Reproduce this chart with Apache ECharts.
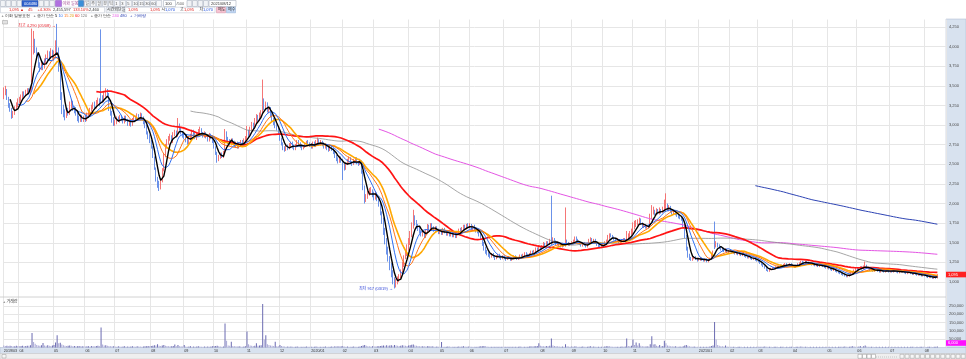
<!DOCTYPE html>
<html><head><meta charset="utf-8">
<script src="https://cdn.jsdelivr.net/npm/echarts@6/dist/echarts.min.js"></script>
<style>html,body{margin:0;padding:0;background:#fff;}#c{width:966px;height:359px;}</style>
</head><body><div id="c"></div>
<script>
// ---- categories / tick labels ----
const monthLabels = ['2019/03','04','05','06','07','08','09','10','11','12',
  '2020/01','02','03','04','05','06','07','08','09','10','11','12',
  '2021/01','02','03','04','05','06','07','08'];
const monthDays = [10,22,20,19,23,21,19,21,21,20, 20,20,22,20,19,22,23,20,20,19,21,21, 20,18,22,22,19,21,22,9];
const priceTicks = [1000,1250,1500,1750,2000,2250,2500,2750,3000,3250,3500,3750,4000,4250];
const volTicks = [50000,100000,150000,200000,250000];
const maxNote = '최고 4,290 (05/08) →';
const minNote = '최저 917 (03/19) →';

// ---- daily OHLC (one row per month) ----
const open = [
3360,3400,3450,3340,3260,3200,3110,3150,3210,3250,
3300,3320,3360,3410,3380,3420,3450,3400,3460,3950,4080,3960,3880,3760,3710,3790,3740,3800,3870,3910,3850,3930,
3870,3890,3980,3950,3690,3360,3200,3160,3110,3190,3150,3240,3290,3200,3190,3140,3090,3050,3110,3060,
3090,3070,3130,3150,3190,3220,3260,3230,3290,3310,3400,3330,3310,3390,3430,3390,3210,3140,3070,
3010,3030,3090,3050,3110,3060,3040,3100,3060,3010,3050,3000,3070,3100,3060,3120,3070,3130,3080,3030,2990,2890,2860,
2790,2710,2590,2440,2310,2260,2200,2290,2430,2610,2730,2770,2830,2860,2790,2890,2910,2860,2990,2940,2890,
2870,2850,2810,2770,2830,2860,2910,2880,2830,2880,2910,2940,2880,2850,2890,2850,2810,2870,2840,
2790,2710,2640,2560,2590,2620,2600,2650,2870,2820,2790,2750,2800,2780,2740,2770,2720,2750,2790,2760,2790,
2820,2910,2870,2950,3010,2980,3040,3110,3070,3120,3180,3310,3210,3260,3170,3210,3130,3060,3030,2990,2950,
2890,2820,2760,2700,2680,2720,2700,2730,2770,2720,2700,2740,2790,2760,2730,2700,2720,2750,2790,2760,
2740,2720,2770,2740,2770,2800,2750,2790,2760,2720,2740,2710,2680,2720,2690,2650,2600,2570,2530,2580,
2550,2480,2440,2500,2540,2570,2520,2500,2540,2570,2520,2500,2530,2390,2200,2040,2090,2120,2150,2170,
2110,2070,2130,2060,1990,1870,1790,1650,1530,1420,1290,1210,1110,1030,940,1010,1020,1070,1140,1210,1310,1350,
1420,1500,1590,1700,1790,1770,1700,1690,1640,1600,1620,1580,1640,1710,1680,1720,1690,1660,1690,1650,
1630,1650,1620,1670,1640,1610,1640,1600,1620,1590,1620,1580,1620,1660,1640,1680,1710,1690,1730,
1700,1720,1680,1710,1670,1650,1640,1600,1560,1490,1420,1380,1360,1340,1320,1350,1330,1300,1320,1350,1310,1300,
1320,1300,1290,1310,1300,1280,1300,1320,1310,1290,1300,1330,1320,1340,1370,1340,1330,1350,1380,1360,1390,1420,1400,
1440,1420,1450,1490,1460,1500,1480,1550,1500,1540,1510,1480,1500,1470,1450,1480,1470,1520,1490,1470,
1480,1500,1520,1560,1530,1500,1480,1460,1490,1470,1450,1480,1520,1540,1510,1530,1500,1470,1450,1440,
1460,1480,1500,1520,1560,1600,1580,1560,1540,1520,1540,1500,1510,1520,1550,1530,1560,1580,1600,
1620,1690,1720,1750,1760,1790,1740,1700,1720,1690,1710,1700,1820,1890,1900,1860,1910,1880,1910,1890,1920,
1950,1970,1920,1950,1900,1880,1890,1870,1850,1830,1820,1800,1720,1580,1420,1330,1300,1290,1300,1310,1300,
1280,1290,1300,1280,1270,1290,1260,1280,1300,1340,1720,1460,1480,1460,1440,1420,1400,1390,1410,1380,
1400,1390,1370,1380,1360,1370,1350,1360,1340,1350,1330,1320,1310,1320,1300,1290,1300,1280,
1270,1260,1240,1220,1200,1180,1150,1140,1160,1170,1180,1170,1190,1200,1190,1210,1200,1220,1230,1210,1220,1230,
1210,1200,1190,1210,1230,1240,1260,1250,1240,1260,1250,1230,1240,1220,1230,1210,1220,1200,1210,1220,1200,1190,
1180,1190,1170,1160,1150,1160,1140,1130,1120,1110,1100,1090,1080,1070,1080,1090,1110,1130,1150,
1170,1160,1180,1190,1170,1200,1210,1180,1170,1150,1160,1140,1150,1160,1140,1130,1150,1140,1130,1140,1150,
1130,1140,1130,1150,1140,1130,1120,1130,1140,1130,1120,1110,1120,1130,1110,1100,1110,1100,1090,1100,1090,1080,
1090,1080,1070,1060,1070,1060,1050,1060,1050];
const high = [
3480,3500,3460,3360,3280,3220,3180,3240,3290,3340,
3360,3390,3430,3430,3450,3470,3470,3480,4230,4200,4100,3990,3900,3800,3820,3810,3850,3900,3950,3940,3980,3960,
3950,4080,4290,3990,3720,3420,3260,3200,3220,3220,3300,3330,3310,3240,3230,3170,3120,3140,3130,3120,
3130,3160,3190,3220,3260,3290,3300,3320,3350,3340,4220,3380,3420,3470,3460,3410,3240,3180,3100,
3070,3110,3110,3130,3130,3090,3120,3120,3080,3070,3070,3090,3130,3120,3150,3140,3160,3150,3110,3050,3000,2920,2880,
2810,2730,2600,2460,2340,2290,2310,2450,2640,2760,2820,2860,2890,2870,2910,2940,2930,3090,3020,2970,2920,
2900,2880,2840,2850,2890,2940,2940,2910,2900,2950,2980,2960,2910,2920,2910,2880,2900,2890,2860,
2810,2730,2660,2620,2650,2650,2670,2950,2920,2850,2820,2830,2830,2800,2790,2790,2780,2810,2810,2830,2860,
2990,2940,2980,3040,3030,3090,3140,3130,3160,3190,3580,3340,3300,3290,3240,3230,3150,3090,3050,3010,2970,
2910,2840,2780,2730,2740,2750,2770,2790,2790,2750,2760,2810,2810,2780,2750,2740,2770,2800,2810,2780,
2770,2790,2790,2810,2840,2820,2810,2800,2780,2770,2760,2730,2750,2740,2710,2670,2620,2590,2610,2600,
2570,2510,2520,2570,2600,2590,2540,2570,2590,2590,2540,2570,2550,2420,2230,2120,2160,2200,2210,2180,
2150,2160,2140,2080,2010,1900,1820,1690,1560,1450,1330,1240,1150,1060,1040,1070,1100,1160,1260,1340,1400,1480,
1560,1650,1760,1920,1850,1790,1740,1710,1660,1670,1640,1670,1740,1730,1750,1750,1710,1710,1710,1680,
1670,1670,1690,1690,1660,1650,1660,1640,1640,1630,1640,1640,1680,1690,1700,1730,1730,1740,1750,
1750,1740,1720,1730,1690,1670,1660,1620,1580,1510,1450,1410,1380,1360,1370,1370,1340,1340,1360,1360,1330,1340,
1340,1320,1330,1330,1310,1310,1340,1340,1320,1320,1350,1350,1360,1380,1380,1360,1370,1400,1400,1410,1440,1440,1470,
1460,1470,1510,1500,1520,1520,1550,2100,1570,1560,1530,1520,1510,1490,1500,1490,1950,1540,1510,1500,
1520,1540,1580,1580,1550,1520,1500,1510,1510,1480,1500,1550,1570,1560,1550,1550,1520,1490,1470,1480,
1500,1520,1540,1600,1620,1620,1600,1580,1560,1560,1550,1530,1540,1560,1560,1650,1620,1650,1680,
1760,1780,1790,1800,1820,1810,1760,1750,1740,1730,1730,1870,1980,1960,1920,1940,1930,1950,1930,1960,2050,
2130,2000,1980,1970,1920,1910,1910,1890,1870,1850,1840,1820,1740,1600,1450,1360,1320,1320,1330,1330,1310,
1310,1320,1310,1300,1300,1300,1290,1310,1360,1400,1770,1520,1500,1480,1460,1440,1420,1430,1420,1410,
1410,1400,1390,1390,1380,1380,1370,1370,1360,1360,1340,1330,1330,1330,1310,1310,1310,1290,
1280,1270,1250,1230,1210,1190,1160,1170,1180,1190,1190,1200,1210,1210,1220,1220,1230,1240,1240,1230,1240,1240,
1220,1210,1220,1240,1250,1270,1270,1260,1270,1270,1260,1250,1250,1240,1240,1230,1230,1220,1230,1230,1210,1200,
1200,1200,1180,1170,1170,1170,1150,1140,1130,1120,1110,1100,1090,1090,1100,1120,1140,1160,1180,
1180,1190,1200,1200,1210,1260,1220,1190,1180,1170,1170,1160,1170,1170,1150,1160,1160,1150,1150,1160,1160,
1150,1150,1160,1160,1150,1140,1140,1150,1150,1140,1130,1130,1140,1140,1120,1120,1120,1110,1110,1110,1100,1100,
1100,1090,1080,1080,1080,1070,1070,1070,1100];
const low = [
3330,3380,3320,3220,3170,3080,3090,3130,3190,3230,
3280,3300,3340,3360,3370,3400,3390,3390,3440,3900,3920,3830,3730,3680,3700,3700,3720,3780,3840,3820,3840,3850,
3820,3860,3900,3680,3320,3140,3100,3060,3090,3120,3130,3210,3180,3150,3120,3050,3030,3040,3040,3040,
3040,3050,3100,3130,3170,3200,3210,3210,3260,3240,3280,3280,3290,3360,3370,3180,3120,3030,2990,
2990,3010,3040,3030,3050,3020,3020,3040,2990,2990,2980,2990,3050,3050,3050,3060,3060,3070,3010,2960,2880,2820,2770,
2700,2580,2430,2280,2200,2160,2180,2270,2410,2590,2700,2750,2800,2780,2770,2860,2840,2850,2930,2880,2840,
2820,2780,2750,2750,2810,2840,2860,2820,2810,2860,2890,2870,2840,2840,2830,2790,2790,2820,2770,
2700,2620,2520,2540,2570,2580,2580,2630,2800,2760,2740,2740,2760,2720,2720,2700,2700,2740,2740,2750,2770,
2800,2850,2860,2930,2950,2960,3020,3050,3050,3100,3150,3190,3190,3160,3150,3100,3040,3000,2960,2930,2880,
2800,2740,2680,2660,2670,2680,2690,2710,2700,2680,2680,2720,2740,2710,2680,2690,2710,2740,2750,2720,
2700,2700,2720,2720,2750,2740,2740,2730,2700,2700,2680,2660,2670,2670,2630,2580,2540,2510,2520,2520,
2300,2420,2430,2490,2520,2500,2480,2490,2530,2500,2480,2490,2380,2170,2000,2020,2060,2100,2120,2080,
2040,2050,2030,1960,1850,1740,1600,1480,1350,1260,1150,1060,970,917,930,970,1000,1050,1120,1190,1290,1330,
1400,1470,1570,1680,1720,1680,1650,1620,1580,1580,1560,1560,1620,1660,1660,1670,1640,1640,1640,1610,
1610,1600,1600,1620,1590,1590,1580,1580,1570,1570,1560,1560,1600,1620,1620,1660,1670,1670,1680,
1680,1660,1660,1650,1630,1620,1580,1540,1460,1400,1360,1340,1320,1300,1310,1310,1280,1290,1310,1300,1280,1290,
1290,1270,1280,1290,1270,1270,1290,1300,1280,1280,1290,1310,1310,1330,1330,1320,1320,1340,1350,1350,1380,1390,1390,
1400,1410,1440,1450,1450,1470,1470,1470,1490,1500,1470,1470,1460,1440,1440,1450,1450,1480,1460,1460,
1470,1490,1510,1520,1490,1470,1450,1450,1460,1440,1440,1470,1510,1500,1500,1490,1460,1440,1430,1430,
1450,1470,1490,1510,1550,1570,1550,1530,1510,1510,1490,1490,1500,1510,1520,1520,1550,1570,1590,
1610,1670,1700,1720,1740,1730,1690,1690,1680,1680,1680,1690,1800,1860,1850,1850,1860,1860,1870,1880,1900,
1920,1900,1900,1890,1860,1860,1850,1830,1810,1800,1780,1700,1560,1400,1310,1280,1270,1270,1290,1280,1260,
1270,1270,1270,1260,1260,1250,1250,1270,1290,1330,1420,1440,1440,1420,1400,1390,1380,1380,1370,1370,
1380,1360,1360,1350,1350,1340,1340,1330,1330,1320,1310,1300,1300,1290,1280,1280,1270,1260,
1250,1230,1210,1190,1170,1140,1130,1130,1150,1160,1160,1160,1180,1180,1180,1190,1190,1210,1200,1200,1210,1200,
1190,1180,1180,1200,1220,1230,1240,1230,1230,1240,1220,1220,1210,1210,1200,1200,1190,1190,1200,1190,1180,1170,
1170,1160,1150,1140,1140,1130,1120,1110,1100,1090,1080,1070,1060,1060,1070,1080,1100,1120,1140,
1150,1150,1170,1160,1160,1190,1170,1160,1140,1140,1130,1130,1140,1130,1120,1120,1130,1120,1120,1130,1120,
1120,1120,1120,1130,1120,1110,1110,1120,1120,1110,1100,1100,1110,1100,1090,1090,1090,1080,1080,1080,1070,1070,
1070,1060,1050,1050,1050,1040,1040,1040,1045];
const close = [
3400,3450,3350,3250,3200,3120,3150,3200,3260,3300,
3330,3360,3400,3380,3420,3440,3410,3450,3980,4060,3950,3880,3760,3720,3780,3740,3800,3860,3900,3850,3920,3880,
3880,3960,3960,3700,3350,3180,3150,3120,3180,3150,3250,3280,3200,3180,3150,3080,3060,3100,3070,3090,
3080,3120,3150,3180,3220,3250,3240,3280,3300,3270,3330,3320,3380,3420,3400,3200,3150,3060,3020,
3040,3080,3060,3100,3070,3050,3090,3060,3020,3040,3010,3060,3090,3070,3110,3080,3120,3090,3030,2980,2900,2850,2800,
2720,2600,2450,2300,2250,2200,2280,2420,2600,2720,2780,2820,2850,2800,2880,2900,2860,3000,2950,2900,2870,
2850,2800,2780,2820,2860,2900,2880,2840,2870,2910,2930,2890,2860,2880,2850,2820,2860,2840,2800,
2720,2640,2560,2580,2620,2600,2640,2880,2820,2780,2760,2800,2780,2740,2760,2720,2750,2780,2760,2800,2820,
2900,2880,2950,3000,2980,3050,3100,3080,3120,3150,3300,3220,3250,3180,3200,3120,3060,3020,2980,2950,2900,
2820,2760,2700,2680,2720,2700,2740,2760,2720,2700,2740,2780,2760,2730,2700,2720,2750,2780,2760,2740,
2730,2760,2740,2780,2800,2760,2780,2750,2720,2740,2700,2680,2720,2690,2650,2600,2560,2540,2580,2550,
2480,2450,2500,2540,2560,2520,2500,2540,2560,2520,2500,2540,2400,2200,2050,2080,2120,2150,2160,2100,
2080,2120,2050,2000,1880,1780,1640,1520,1400,1300,1200,1100,1020,950,1000,1020,1080,1130,1220,1300,1360,1420,
1500,1580,1700,1780,1760,1700,1680,1640,1600,1620,1580,1640,1700,1680,1720,1690,1660,1680,1650,1630,
1640,1620,1660,1640,1610,1630,1600,1620,1590,1610,1580,1620,1650,1640,1680,1700,1690,1720,1700,
1710,1680,1700,1670,1650,1640,1600,1560,1480,1420,1380,1360,1340,1320,1350,1330,1300,1320,1340,1310,1300,1320,
1300,1290,1310,1300,1280,1300,1320,1310,1290,1300,1330,1320,1340,1360,1340,1330,1350,1380,1360,1390,1420,1400,1440,
1420,1450,1480,1460,1500,1480,1520,1500,1540,1510,1480,1500,1470,1450,1480,1460,1520,1490,1470,1480,
1500,1520,1550,1530,1500,1480,1460,1490,1470,1450,1480,1520,1540,1510,1530,1500,1470,1450,1440,1460,
1480,1500,1520,1560,1590,1580,1560,1540,1520,1540,1500,1510,1520,1540,1530,1560,1580,1600,1620,
1680,1720,1740,1760,1780,1740,1700,1720,1690,1710,1700,1820,1880,1900,1870,1900,1880,1910,1890,1920,1950,
1960,1920,1950,1900,1880,1890,1870,1850,1830,1820,1800,1720,1580,1420,1330,1300,1290,1300,1310,1300,1280,
1290,1300,1280,1270,1290,1260,1280,1300,1340,1380,1460,1480,1460,1440,1420,1400,1390,1410,1380,1400,
1390,1370,1380,1360,1370,1350,1360,1340,1350,1330,1320,1310,1320,1300,1290,1300,1280,1270,
1260,1240,1220,1200,1180,1150,1140,1160,1170,1180,1170,1190,1200,1190,1210,1200,1220,1230,1210,1220,1230,1210,
1200,1190,1210,1230,1240,1260,1250,1240,1260,1250,1230,1240,1220,1230,1210,1220,1200,1210,1220,1200,1190,1180,
1190,1170,1160,1150,1160,1140,1130,1120,1110,1100,1090,1080,1070,1080,1090,1110,1130,1150,1170,
1160,1180,1190,1170,1200,1210,1180,1170,1150,1160,1140,1150,1160,1140,1130,1150,1140,1130,1140,1150,1130,
1140,1130,1150,1140,1130,1120,1130,1140,1130,1120,1110,1120,1130,1110,1100,1110,1100,1090,1100,1090,1080,1090,
1080,1070,1060,1070,1060,1050,1060,1050,1095];
// volume in thousands of shares
const volumeK = [
12,9,10,8,11,9,7,8,10,9,
8,9,10,8,9,11,10,14,87,33,22,15,12,10,14,27,12,11,13,10,9,12,
15,30,74,25,28,18,14,10,9,11,12,10,8,9,7,8,9,7,8,7,
6,7,8,6,9,8,7,9,10,8,120,18,12,14,10,9,8,7,8,
6,5,7,6,5,6,7,5,6,5,6,7,6,5,7,6,6,5,6,7,8,9,8,
9,10,14,12,20,11,9,12,15,10,9,8,7,8,9,18,7,15,8,7,6,
15,6,5,6,7,5,6,5,6,7,6,5,5,6,5,6,5,6,7,
8,9,10,7,6,5,6,144,40,12,10,35,9,8,7,6,7,6,5,6,7,
96,20,12,10,9,11,25,10,12,14,260,48,74,20,15,12,10,9,34,8,7,
15,9,7,6,5,6,5,6,5,4,5,6,5,4,5,4,5,6,5,4,
5,4,5,6,5,4,5,4,5,6,5,4,5,6,5,7,6,8,6,7,
8,6,5,6,5,4,5,6,5,4,5,6,9,12,15,10,8,7,6,8,
7,6,7,8,9,10,12,11,13,10,12,14,11,15,12,10,9,11,13,12,10,9,
12,14,16,18,12,10,9,8,7,8,7,6,7,8,6,7,6,5,6,5,
5,33,5,4,5,6,6,5,4,5,4,5,6,5,6,7,6,5,6,
6,5,5,4,5,4,6,7,8,9,7,6,5,4,5,4,5,4,5,4,5,4,
4,5,4,5,4,5,4,5,4,5,6,5,4,5,4,5,6,7,6,7,8,9,26,
10,9,8,7,9,8,10,54,12,9,8,7,6,5,6,5,20,7,6,5,
6,5,7,6,5,4,5,6,5,4,5,6,7,5,6,5,4,5,4,5,
5,6,7,8,7,6,5,5,4,5,4,5,6,5,6,54,9,8,10,
48,15,30,12,25,10,8,7,6,7,6,20,68,18,20,10,9,15,8,9,40,
25,12,10,8,7,6,7,6,5,6,5,8,12,15,10,8,6,5,6,5,4,
4,5,4,5,4,5,4,6,9,12,152,48,15,10,8,7,6,12,6,5,
5,4,5,4,3,4,5,4,3,4,3,4,3,4,3,4,3,4,
4,5,4,5,6,5,4,5,4,3,4,5,4,3,4,5,4,3,4,3,4,5,
4,3,4,5,4,6,5,4,5,4,3,4,3,4,3,4,3,4,3,4,3,4,
3,4,3,4,3,4,3,4,5,4,5,6,5,4,5,6,7,6,5,
5,6,7,5,8,12,6,5,4,5,4,3,4,3,4,3,4,3,4,3,4,
3,4,3,4,3,4,3,4,3,4,3,4,3,4,5,4,3,4,3,4,5,4,
4,3,4,5,4,3,4,5,6];

// ---- moving averages shown ----
const maDefs = [
  {n:480, color:'#2e44b4', w:1},
  {n:240, color:'#e455e4', w:1},
  {n:120, color:'#8f8f8f', w:0.8},
  {n:60,  color:'#ff1414', w:1.7},
  {n:20,  color:'#ffa800', w:1.6},
  {n:15,  color:'#ff7418', w:1},
  {n:10,  color:'#2f6ff2', w:1},
  {n:5,   color:'#000000', w:1.4}
];

const FONT = '"Liberation Sans","Noto Sans CJK KR",sans-serif';
const FS = 4;
const fmt = v => Number(v).toLocaleString('en-US');
const N = close.length;
const PAD = 5;
const cats = [];
for (let i = 0; i < N + PAD; i++) cats.push(String(i));
const monthStart = {};
(function(){ let acc = 0; monthDays.forEach((n,k)=>{ monthStart[acc] = monthLabels[k]; acc += n; }); })();

function sma(n){
  const r = []; let s = 0;
  for (let i = 0; i < N; i++) {
    s += close[i]; if (i >= n) s -= close[i-n];
    r.push(i >= n-1 ? Math.round(s/n*10)/10 : '-');
  }
  return r;
}

let maxI = 0, minI = 0;
for (let i = 0; i < N; i++) { if (high[i] > high[maxI]) maxI = i; if (low[i] < low[minI]) minI = i; }

const P_MIN = 750, P_MAX = 4500, P_INT = 250;
const pSplitColors = [];
for (let v = P_MIN; v <= P_MAX; v += P_INT) pSplitColors.push(priceTicks.includes(v) ? '#e6e6e6' : 'rgba(0,0,0,0)');
const V_MIN = 0, V_MAX = 300000, V_INT = 50000;
const vSplitColors = [];
for (let v = V_MIN; v <= V_MAX; v += V_INT) vSplitColors.push(volTicks.includes(v) ? '#e6e6e6' : 'rgba(0,0,0,0)');

const candleData = close.map((c,i)=>[open[i], c, low[i], high[i]]);
const volData = volumeK.map((v,i)=>({value: v*1000, itemStyle:{color: (i>0 && v>volumeK[i-1]) ? '#6b6bb2' : '#a7a7d6'}}));

const lineSeries = maDefs.map((d,k)=>({
  type:'line', name:'MA'+d.n, xAxisIndex:0, yAxisIndex:0, data: sma(d.n),
  showSymbol:false, symbol:'none', silent:true, animation:false,
  lineStyle:{color:d.color, width:d.w}, z: 3 + k
}));

const chart = echarts.init(document.getElementById('c'), null, {renderer:'canvas'});
const isMonth = (i) => monthStart[i] !== undefined;

chart.setOption({
  animation:false,
  backgroundColor:'#ffffff',
  grid:[
    {left:3, right:20, top:7.4, height:294.2, containLabel:false, outerBoundsMode:'none'},
    {left:3, right:20, top:297.4, height:50.1, containLabel:false, outerBoundsMode:'none'},
    {left:3, right:20, top:19.5, height:328, containLabel:false, outerBoundsMode:'none'}
  ],
  xAxis:[
    {gridIndex:0, type:'category', data:cats, boundaryGap:true, axisLine:{show:false}, axisTick:{show:false}, axisLabel:{show:false}, splitLine:{show:false}},
    {gridIndex:1, type:'category', data:cats, boundaryGap:true, axisLine:{show:false}, axisTick:{show:false},
      axisLabel:{show:true, showMinLabel:true, interval:(i)=>isMonth(i), formatter:(v,i)=>monthStart[i]||'', fontSize:3.7, color:'#333', align:'left', margin:1.4, fontFamily:FONT},
      splitLine:{show:false}},
    {gridIndex:2, type:'category', data:cats, boundaryGap:true, axisLine:{show:false}, axisTick:{show:false}, axisLabel:{show:false},
      splitLine:{show:true, interval:(i)=>isMonth(i), lineStyle:{color:'#e6e6e6', width:1}}}
  ],
  yAxis:[
    {gridIndex:0, type:'value', position:'right', min:P_MIN, max:P_MAX, interval:P_INT, scale:false,
      axisLine:{show:false}, axisTick:{show:false},
      axisLabel:{fontSize:FS, color:'#4a4a4a', margin:3, fontFamily:FONT, formatter:(v)=>priceTicks.includes(v)?fmt(v):''},
      splitLine:{show:true, lineStyle:{color:pSplitColors, width:1}}},
    {gridIndex:1, type:'value', position:'right', min:V_MIN, max:V_MAX, interval:V_INT,
      axisLine:{show:false}, axisTick:{show:false},
      axisLabel:{fontSize:FS, color:'#4a4a4a', margin:3, fontFamily:FONT, formatter:(v)=>volTicks.includes(v)?fmt(v):''},
      splitLine:{show:true, lineStyle:{color:vSplitColors, width:1}}},
    {gridIndex:2, type:'value', show:false, splitLine:{show:false}}
  ],
  series:[
    {type:'candlestick', xAxisIndex:0, yAxisIndex:0, data:candleData, large:false, progressive:0, barWidth:1, z:2, silent:true,
      itemStyle:{color:'#f46666', color0:'#5a86e6', borderColor:'#f46666', borderColor0:'#5a86e6', borderWidth:0.9},
      markPoint:{symbol:'circle', symbolSize:1, silent:true, animation:false, itemStyle:{color:'rgba(0,0,0,0)'},
        data:[
          {coord:[maxI, high[maxI]], label:{show:true, position:'left', distance:1, formatter:maxNote, color:'#e4202a', fontSize:FS, fontFamily:FONT, offset:[0,2]}},
          {coord:[minI, low[minI]], label:{show:true, position:'left', distance:1, formatter:minNote, color:'#2a3fd6', fontSize:FS, fontFamily:FONT}}
        ]}
    },
    ...lineSeries,
    {type:'bar', xAxisIndex:1, yAxisIndex:1, data:volData, barWidth:1, silent:true, z:2}
  ]
});

// ---- chrome (toolbar, panels) ----
function T(x,y,text,fill,z){ return {type:'text', x:x, y:y, z:(z==null?100:z), silent:true,
  style:{text:text, fill:fill||'#333', fontSize:FS, fontFamily:FONT, verticalAlign:'middle', align:'left'}}; }
function R(x,y,w,h,fill,stroke,z){ return {type:'rect', z:(z==null?100:z), silent:true,
  shape:{x:x,y:y,width:w,height:h}, style:{fill:fill, stroke:stroke||null, lineWidth:0.5}}; }
const g = [];
// panels
g.push(R(946,19,20,328.5,'#d8e2ef','#a9b7cc',-1));
g.push(R(0,347.5,966,6,'#d8e2ef','#a9b7cc',-1));
g.push(R(0,353.5,966,5.5,'#efefef','#c4c4c4',-1));
g.push({type:'line', z:1, silent:true, shape:{x1:0,y1:297,x2:946,y2:297}, style:{stroke:'#c6c6c6', lineWidth:0.8}});
g.push(T(3,302,'+ 거래량','#333'));
g.push(R(2.5,20.5,5,3.5,'#e2e2e2','#9a9a9a'));
g.push(R(2,354.5,4,3.5,'#f7f7f7','#9a9a9a'));
[858,862.5,867,871.5].forEach(x=>g.push(R(x,354.3,4,4,'#ffffff','#8c8c8c')));
g.push({type:'line', z:100, silent:true, shape:{x1:876,y1:357,x2:897,y2:357}, style:{stroke:'#999', lineWidth:0.5, lineDash:[1,1]}});
for (let k=0;k<13;k++) g.push(R(900+k*5.1,354.3,4,4,'#f7f7f7','#9a9a9a'));
// toolbar row 1
[0.5,6,11.5,17].forEach(x=>g.push(R(x,0.5,4.8,6,'#f1f3f6','#98a2b3')));
g.push(R(22,0.5,16,6,'#2f62cc','#1d4aa8')); g.push(T(24,3.6,'004480','#ffffff'));
[38.8,44.2,49.6].forEach(x=>g.push(R(x,0.5,4.8,6,'#f1f3f6','#98a2b3')));
g.push(R(55.5,0.5,6,6,'#b070e0','#8a4cc0'));
g.push(T(62.5,3.6,'이화 일봉차트','#9a3a8a'));
g.push(R(78.5,0.5,5,6,'#3b8fd8','#2a6fb0'));
const tb = ['일','주','월','분','틱','1','3','5','10','15','30','60',''];
tb.forEach((s,k)=>{ g.push(R(84.5+k*6,0.5,5.2,6,'#f6f7f9','#a2abba')); if(s) g.push(T(85.3+k*6,3.6,s,'#555')); });
g.push(R(163.5,0.5,12,6,'#ffffff','#98a2b3')); g.push(T(165,3.6,'100','#333')); g.push(T(176.5,3.6,'/500','#666'));
[187,192.5,198,203.5].forEach(x=>g.push(R(x,0.5,4.8,6,'#f1f3f6','#98a2b3')));
g.push(R(209,0.5,27,6,'#ffffff','#98a2b3')); g.push(T(211,3.6,'2021/08/12','#333'));
// toolbar row 2
g.push(R(0.5,7.2,104,5.6,'#ffffff','#b6bfcc'));
g.push(T(9,10,'1,095 ▲','#e0201c')); g.push(T(28,10,'45','#e0201c')); g.push(T(37.5,10,'+4.30%','#e0201c'));
g.push(T(53,10,'2,455,597','#333')); g.push(T(73,10,'133.10%','#e0201c')); g.push(T(89,10,'2,460','#333'));
g.push(R(106,7.2,18.5,5.6,'#eef1f5','#b6bfcc')); g.push(T(107,10,'시간외단일가','#333'));
g.push(R(125,7.2,90,5.6,'#ffffff','#b6bfcc'));
g.push(T(128,10,'1,095','#e0201c')); g.push(T(150,10,'1,095','#e0201c'));
g.push(T(161.5,10,'시','#333')); g.push(T(165,10,'1,070','#1c4fe0'));
g.push(T(180,10,'고','#333')); g.push(T(184,10,'1,095','#e0201c'));
g.push(T(199.5,10,'저','#333')); g.push(T(203,10,'1,070','#1c4fe0'));
g.push(R(216.5,7.2,9,5.6,'#f7c3d2','#d08aa0')); g.push(T(218,10,'매도','#333'));
g.push(R(226.5,7.2,9,5.6,'#c3d8f5','#8aa8d0')); g.push(T(228,10,'매수','#333'));
// legend row
g.push({type:'text', x:1.5, y:16, z:100, silent:true, style:{
  text:'{a|+ 이화 일봉표현   + 종가 단순} {k|5} {b|10} {o|15} {y|20} {r|60} {e|120}   {a|+ 종가 단순} {m|240} {n|480}   {c|+ 거래량}',
  fontSize:FS, fontFamily:FONT, verticalAlign:'middle', align:'left',
  rich:{a:{fill:'#333',fontSize:FS}, k:{fill:'#000',fontSize:FS}, b:{fill:'#2f6ff2',fontSize:FS}, o:{fill:'#ff7418',fontSize:FS},
        y:{fill:'#e09a00',fontSize:FS}, r:{fill:'#ff1414',fontSize:FS}, e:{fill:'#777',fontSize:FS},
        m:{fill:'#e455e4',fontSize:FS}, n:{fill:'#2e44b4',fontSize:FS}, c:{fill:'#2e44b4',fontSize:FS}}}});
// current price / volume tags on the right axis
const py = chart.convertToPixel({yAxisIndex:0}, close[N-1]);
g.push(R(946,py-2.8,20,5.6,'#ff2020',null,50)); g.push(T(948,py,fmt(close[N-1]),'#ffffff',51));
let vy = chart.convertToPixel({yAxisIndex:1}, volumeK[N-1]*1000);
vy = Math.min(vy, 343);
g.push(R(946,vy-2.8,20,5.6,'#ff10ff',null,50)); g.push(T(948,vy,fmt(volumeK[N-1]*1000),'#ffffff',51));
chart.setOption({graphic: g});
</script></body></html>
